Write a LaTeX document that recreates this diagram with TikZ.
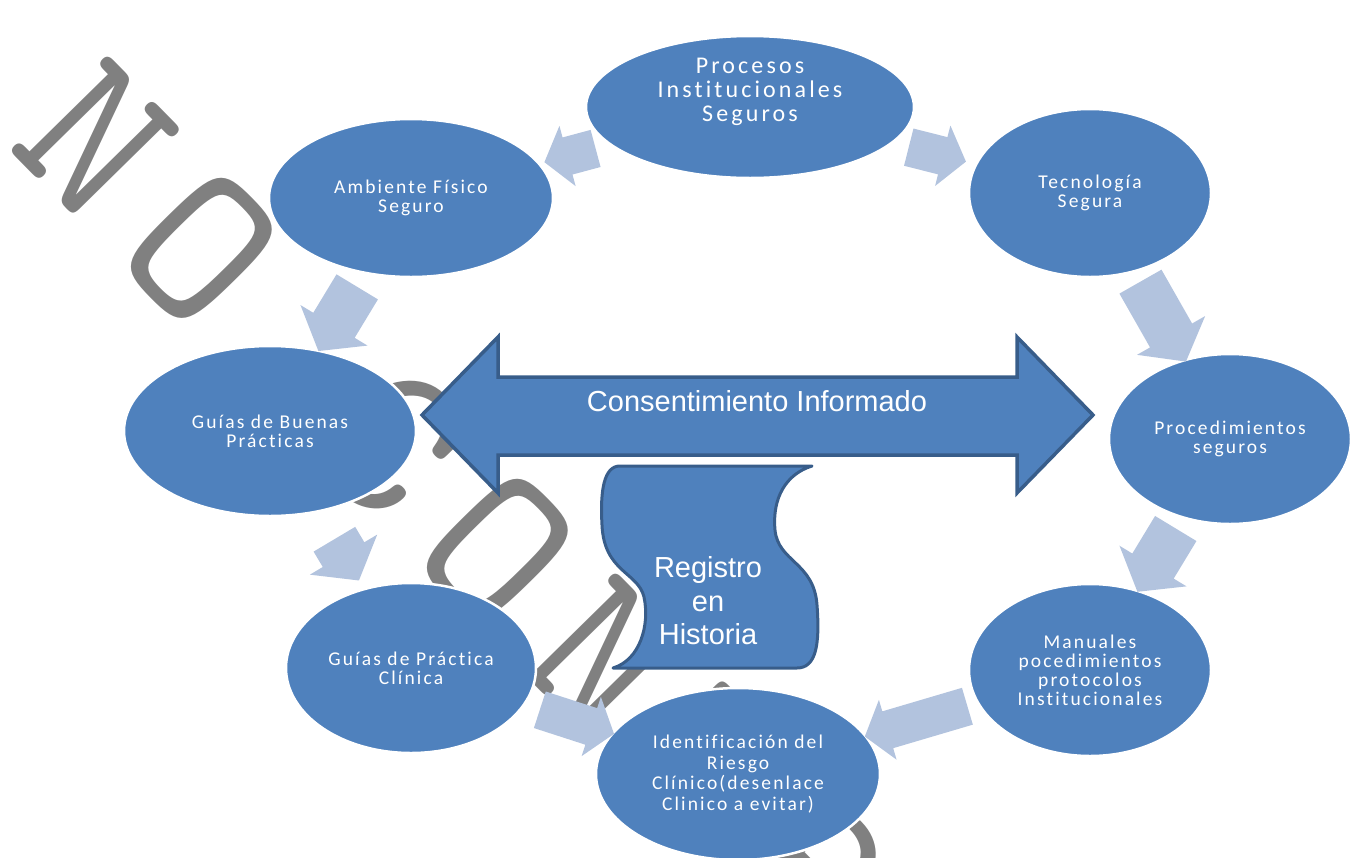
\documentclass[tikz,border=0pt]{standalone}
\usepackage{fontspec}
\usepackage{tikz}
\usetikzlibrary{shapes.geometric,shapes.arrows}
\newfontfamily\stagefont[LetterSpace=11,Ligatures=NoCommon]{Carlito}
\newfontfamily\bigstagefont[LetterSpace=13,Ligatures=NoCommon]{Carlito}
\newfontfamily\arialfont{Liberation Sans}
\newfontfamily\markfont[LetterSpace=15]{lmmono10-regular.otf}
\definecolor{stageblue}{RGB}{79,129,189}
\definecolor{stageedge}{RGB}{56,93,138}
\definecolor{flowtint}{RGB}{178,195,222}
\definecolor{markgray}{RGB}{128,128,128}
\tikzset{
  stage/.style={ellipse, fill=stageblue, draw=white, line width=2.5pt, text=white,
    align=center, inner sep=0pt, font=\stagefont\fontsize{19.5}{19}\selectfont},
  flow arrow/.style={single arrow, fill=flowtint, inner xsep=0pt, inner ysep=24pt,
    single arrow head extend=15pt, single arrow tip angle=105, sloped, allow upside down},
  thin flow/.style={inner ysep=19pt, single arrow head extend=12pt},
  big label/.style={text=white, align=center, font=\arialfont\fontsize{29}{33.5}\selectfont},
  watermark/.style={text=markgray, inner sep=0pt, font=\markfont\fontsize{225}{225}\selectfont},
  consent arrow/.style={fill=stageblue, draw=stageedge, line width=3.5pt},
  scrollbox/.style={fill=stageblue, draw=stageedge, line width=3pt, line join=round}
}
\begin{document}
\begin{tikzpicture}[x=1pt,y=-1pt]
\clip (0,0) rectangle (1352,857);

\node[watermark, anchor=base west, rotate=-45.5] (nocontrol) at (5,146) {NO CONTROLADO};

\node[stage, minimum width=328pt, minimum height=142pt] (proc) at (750,107) {};
\node[stage, minimum width=284pt, minimum height=158pt] (amb) at (411,198) {Ambiente Físico\\Seguro};
\node[stage, minimum width=242pt, minimum height=168pt] (tec) at (1090,193) {Tecnología\\Segura};
\node[stage, minimum width=292pt, minimum height=170pt] (buenas) at (270,431) {Guías de Buenas\\Prácticas};
\node[stage, minimum width=242pt, minimum height=170pt] (proced) at (1230,439) {Procedimientos\\seguros};
\node[stage, minimum width=250pt, minimum height=170pt] (practica) at (411,668) {Guías de Práctica\\Clínica};
\node[stage, minimum width=242pt, minimum height=172pt] (manuales) at (1090,670) {Manuales\\pocedimientos\\protocolos\\Institucionales};
\node[stage, minimum width=284pt, minimum height=172pt, font=\stagefont\fontsize{19.5}{20.5}\selectfont] (ident) at (738,774) {Identificación del\\Riesgo\\Clínico(desenlace\\Clinico a evitar)};
\node[text=white, align=center, font=\bigstagefont\fontsize{24}{24}\selectfont] (proctext) at (750,92) {Procesos\\Institucionales\\Seguros};

\path (proc.center) -- node[flow arrow, thin flow, pos=0.51, minimum height=53pt] (procamb) {} (amb.center);
\path (proc.center) -- node[flow arrow, thin flow, pos=0.53, minimum height=59pt] (proctec) {} (tec.center);
\path (tec.center) -- node[flow arrow, pos=0.49, minimum height=92pt] (tecproced) {} (proced.center);
\path (amb.center) -- node[flow arrow, pos=0.485, minimum height=75pt] (ambbuenas) {} (buenas.center);
\path (buenas.center) -- node[flow arrow, pos=0.51, minimum height=48pt] (buenaspract) {} (practica.center);
\path (proced.center) -- node[flow arrow, pos=0.49, minimum height=74pt] (procedman) {} (manuales.center);
\path (practica.center) -- node[flow arrow, thin flow, pos=0.486, minimum height=78pt] (practident) {} (ident.center);
\path (manuales.center) -- node[flow arrow, thin flow, pos=0.474, minimum height=107pt] (manident) {} (ident.center);

\draw[consent arrow] (422,415) -- (498,337) -- (498,377) -- (1017,377) -- (1017,337) -- (1093,415)
  -- (1017,493) -- (1017,455) -- (498,455) -- (498,493) -- cycle;
\node[big label] (consent) at (757,401) {Consentimiento Informado};

\draw[scrollbox] (620,466) -- (812,466)
  .. controls (786,474) and (772,498) .. (775,530)
  .. controls (778,562) and (814,562) .. (817,605)
  .. controls (820,645) and (816,668) .. (797,668)
  -- (613,668)
  .. controls (640,660) and (650,625) .. (644,597)
  .. controls (638,572) and (604,572) .. (602,525)
  .. controls (600,490) and (604,466) .. (620,466) -- cycle;
\node[big label] (registro) at (708,601) {Registro\\en\\Historia};
\end{tikzpicture}
\end{document}
